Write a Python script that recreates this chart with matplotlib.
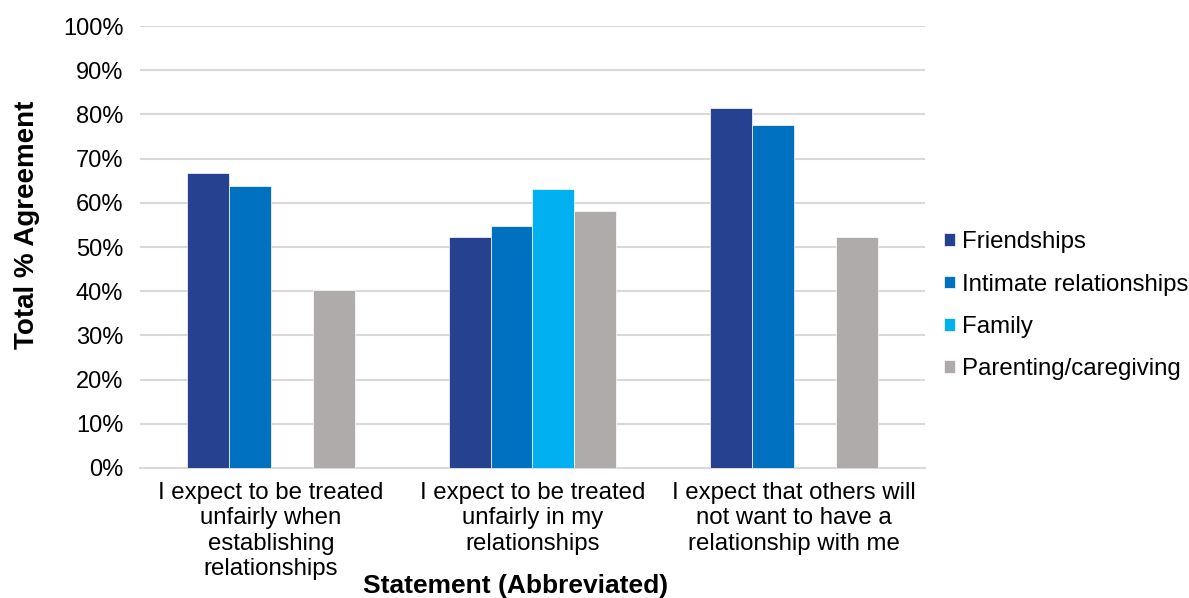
import numpy as np
import matplotlib.pyplot as plt
from matplotlib.ticker import PercentFormatter

# statements on the x axis
statements = ["I expect to be treated\nunfairly when\nestablishing\nrelationships",
              "I expect to be treated\nunfairly in my\nrelationships",
              "I expect that others will\nnot want to have a\nrelationship with me"]

series_names = ["Friendships", "Intimate relationships", "Family", "Parenting/caregiving"]
friendships = [66.7, 52.3, 81.4]
intimate = [63.7, 54.8, 77.6]
family = [np.nan, 63.2, np.nan]
parenting = [40.2, 58.1, 52.3]
colors = ["#264190", "#0070C0", "#00B0F0", "#AFABAB"]

plt.rcParams['font.family'] = ['Liberation Sans', 'DejaVu Sans']

fig = plt.figure(figsize=(11.89, 5.98), dpi=100)
ax = fig.add_axes([0.1177, 0.2174, 0.778 - 0.1177, 0.9565 - 0.2174])

x = np.arange(len(statements))
width = 0.16
for i, (vals, name) in enumerate(zip([friendships, intimate, family, parenting], series_names)):
    ax.bar(x + (i - 1.5) * width, vals, width, color=colors[i], label=name,
           edgecolor='white', linewidth=0.5, zorder=3)

ax.set_xlim(-0.5, len(statements) - 0.5)
ax.set_ylim(0, 100)
ax.set_yticks(np.arange(0, 101, 10))
ax.yaxis.set_major_formatter(PercentFormatter(decimals=0))
ax.grid(axis='y', color='#D9D9D9', linewidth=1.5, zorder=0)
for s in ['top', 'right', 'left']:
    ax.spines[s].set_visible(False)
ax.spines['bottom'].set_color('#D9D9D9')
ax.spines['bottom'].set_linewidth(1.5)
ax.tick_params(axis='both', length=0)
ax.tick_params(axis='y', labelsize=17, pad=12)

ax.set_xticks(x)
ax.set_xticklabels(statements, fontsize=17.3, linespacing=1.2)
ax.tick_params(axis='x', pad=10)

ax.set_xlabel("Statement (Abbreviated)", fontsize=19, fontweight='bold')
ax.xaxis.set_label_coords(0.478, -0.24)
ax.set_ylabel("Total % Agreement", fontsize=20, fontweight='bold')
ax.yaxis.set_label_coords(-0.127, 0.55)

leg = ax.legend(loc='center left', bbox_to_anchor=(0.997, 0.367), frameon=False,
                fontsize=17.3, handlelength=0.45, handleheight=0.45,
                handletextpad=0.3, labelspacing=0.85)

fig.savefig("out.png", dpi=100)
